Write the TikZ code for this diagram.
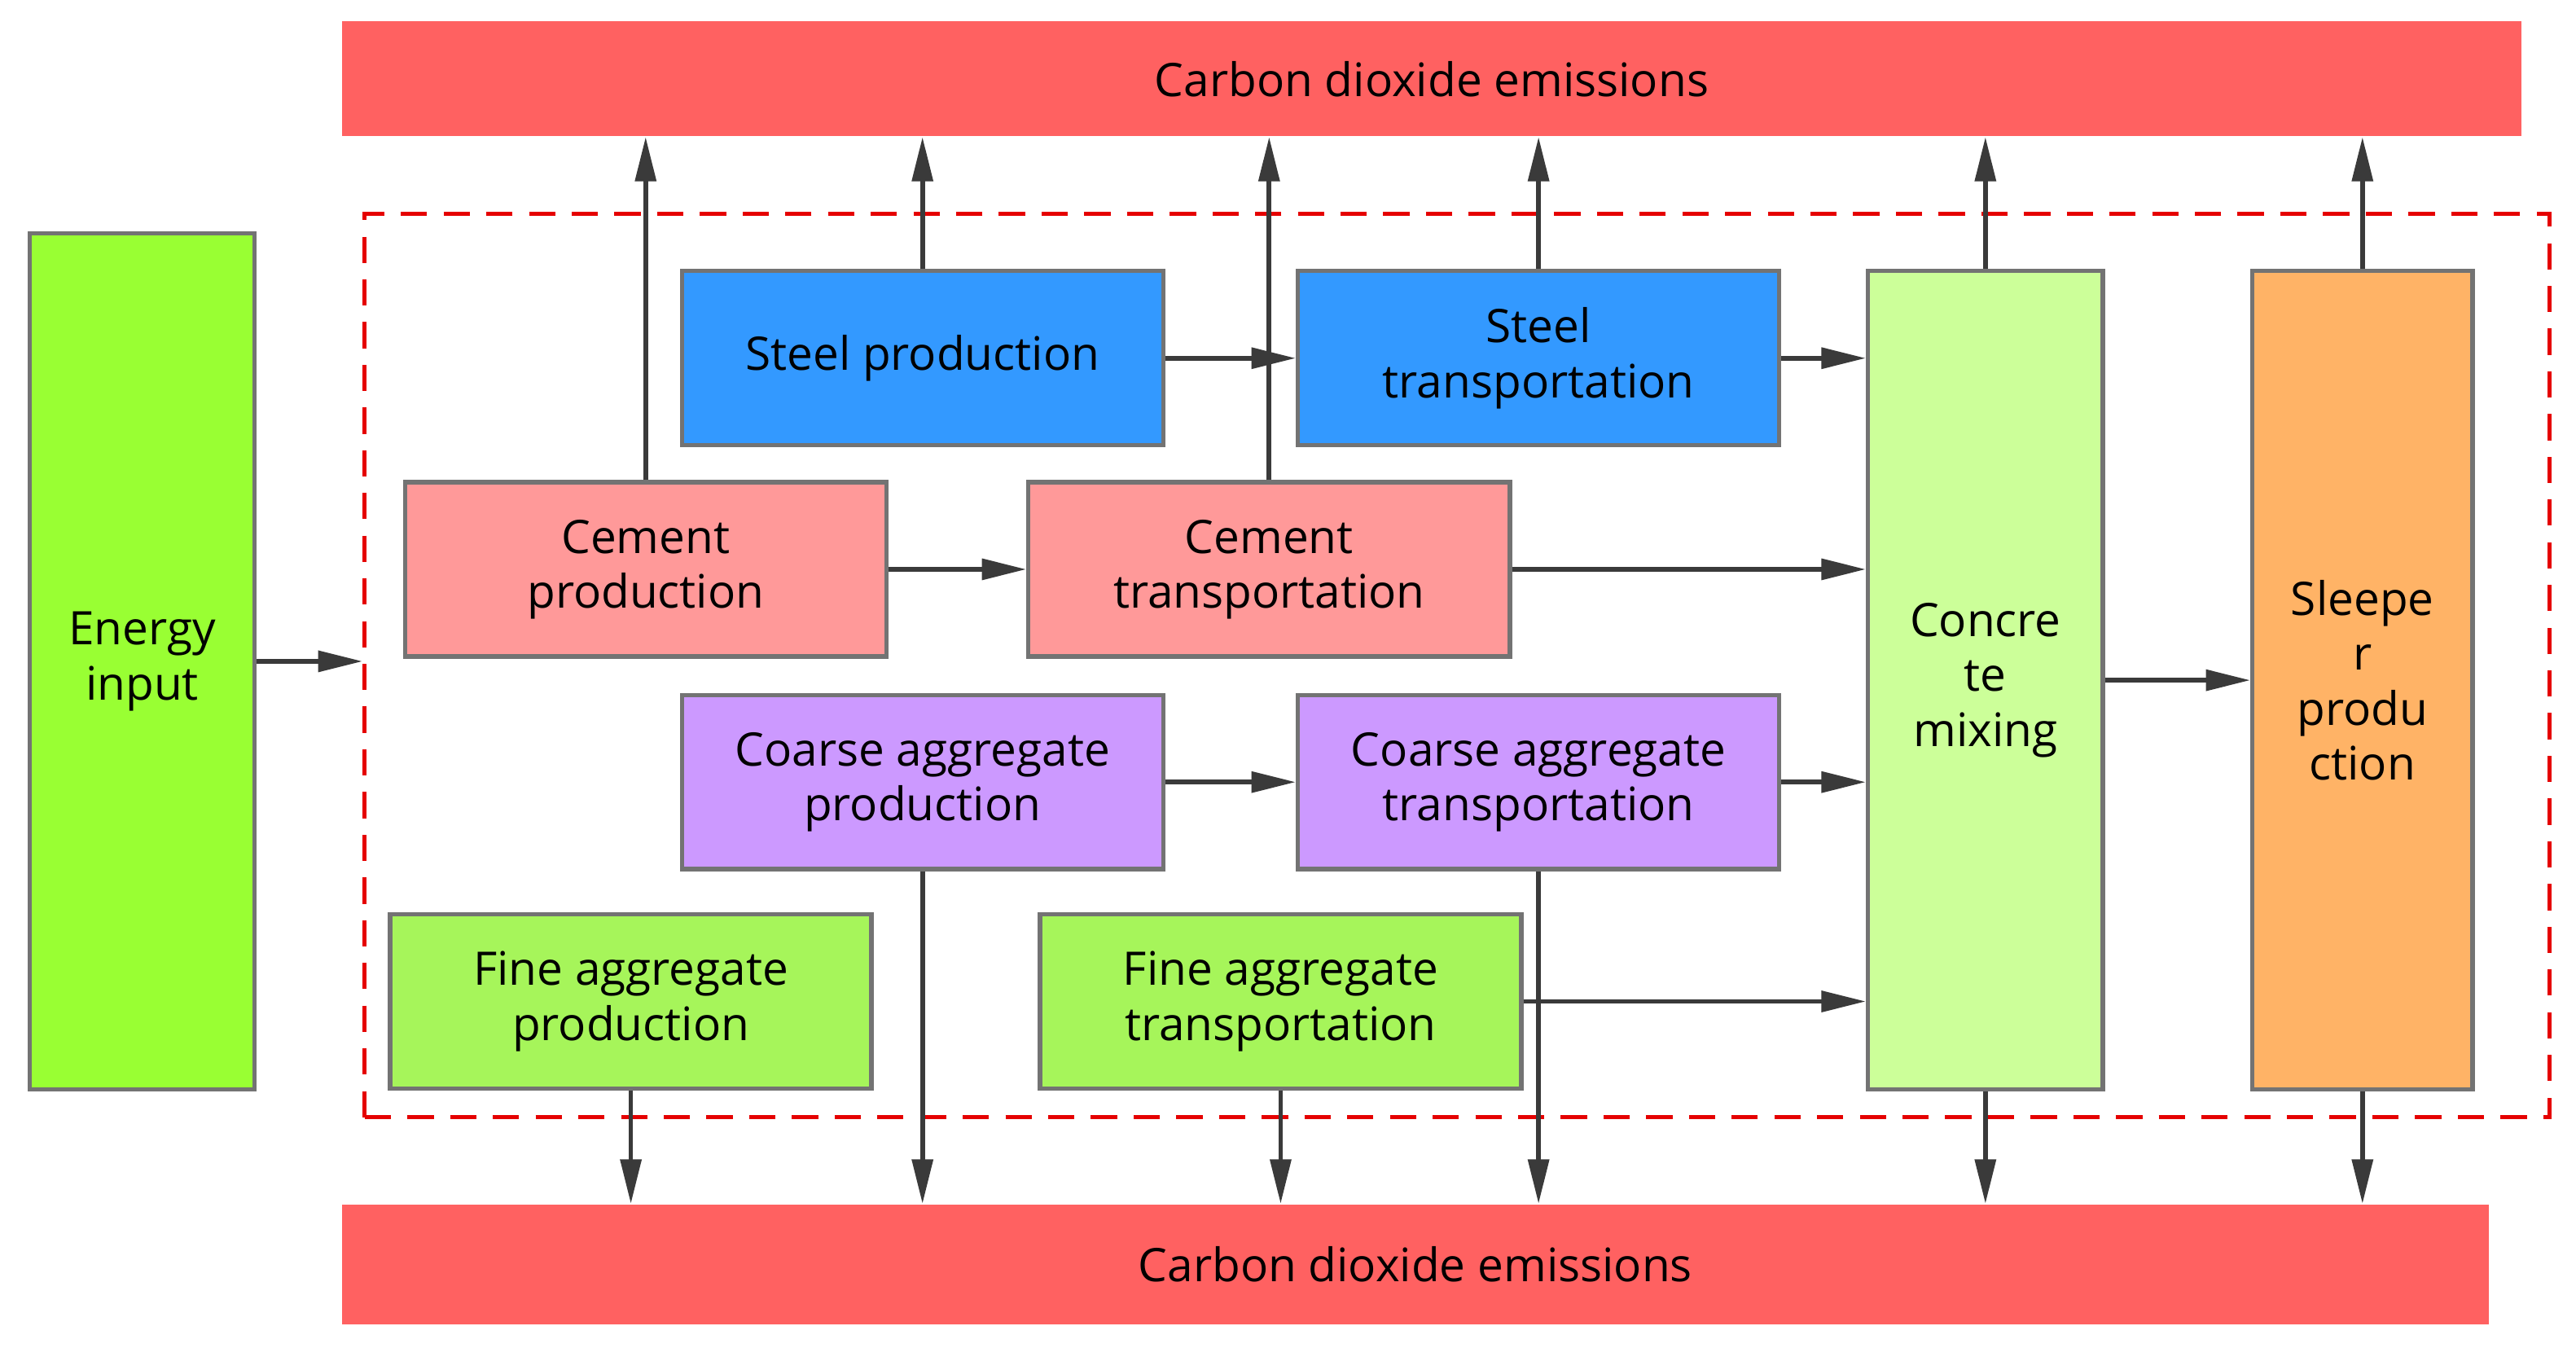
\documentclass[tikz,border=0pt]{standalone}
\usepackage{fontspec}
\setmainfont{Open Sans}
\usetikzlibrary{arrows.meta}
\definecolor{emis}{HTML}{FF6161}
\definecolor{energy}{HTML}{99FF33}
\definecolor{steel}{HTML}{3399FF}
\definecolor{cement}{HTML}{FF9999}
\definecolor{coarse}{HTML}{CC99FF}
\definecolor{fine}{HTML}{A6F55A}
\definecolor{concrete}{HTML}{CCFF99}
\definecolor{sleeper}{HTML}{FFB366}
\definecolor{line}{HTML}{3A3A3A}
\begin{document}
\begin{tikzpicture}[box/.style={draw=gray!90!black, line width=1.5pt, align=center, inner sep=0pt, font=\fontsize{16}{19}\selectfont}, proc/.style={box, minimum width=5.86cm, minimum height=2.12cm}, tall/.style={box, minimum height=9.96cm}, emission/.style={fill=emis, inner sep=0pt, minimum height=1.4cm, font=\fontsize{16}{19}\selectfont}, a/.style={-{Triangle[length=0.54cm, width=0.25cm]}, line width=1.6pt, draw=line}]
    \useasboundingbox (0,0) rectangle (31.36,-16.4);
    % frame and emissions
    \node[draw=red!90!black, dashed, dash pattern=on 0.32cm off 0.2cm, line width=1.5pt, minimum width=26.6cm, minimum height=11cm] (frame) at (17.74,-8.1) {};
    \node[emission, minimum width=26.54cm] (top) at (17.43,-0.96) {Carbon dioxide emissions};
    \node[emission, minimum width=26.14cm, minimum height=1.46cm] (bot) at (17.23,-15.39) {Carbon dioxide emissions};
    % nodes
    \node[box, fill=energy, minimum width=2.74cm, minimum height=10.42cm] (en) at (1.73,-8.05) {Energy\\input};
    \node[proc, fill=steel] (sp) at (11.23,-4.36) {Steel production};
    \node[proc, fill=steel] (st) at (18.73,-4.36) {Steel\\transportation};
    \node[proc, fill=cement] (cp) at (7.86,-6.93) {Cement\\production};
    \node[proc, fill=cement] (ct) at (15.45,-6.93) {Cement\\transportation};
    \node[proc, fill=coarse] (gp) at (11.23,-9.52) {Coarse aggregate\\production};
    \node[proc, fill=coarse] (gt) at (18.73,-9.52) {Coarse aggregate\\transportation};
    \node[proc, fill=fine] (fp) at (7.68,-12.19) {Fine aggregate\\production};
    \node[proc, fill=fine] (ft) at (15.59,-12.19) {Fine aggregate\\transportation};
    \node[tall, fill=concrete, minimum width=2.86cm] (cm) at (24.17,-8.28) {Concre\\te\\mixing};
    \node[tall, fill=sleeper, minimum width=2.68cm] (sl) at (28.76,-8.28) {Sleepe\\r\\produ\\ction};
    % edges up
    \foreach \n in {cp,sp,ct,st,cm,sl}
        \draw[a] (\n.north) -- (\n.north |- top.south);
    % edges down
    \foreach \n in {fp,gp,ft,gt,cm,sl}
        \draw[a] (\n.south) -- (\n.south |- bot.north);
    % edges across
    \draw[a] (en.east) -- (en.east -| frame.west);
    \draw[a] (sp) -- (st);
    \draw[a] (cp) -- (ct);
    \draw[a] (gp) -- (gt);
    \foreach \n in {st,ct,gt,ft}
        \draw[a] (\n.east) -- (\n.east -| cm.west);
    \draw[a] (cm) -- (sl);
\end{tikzpicture}
\end{document}
